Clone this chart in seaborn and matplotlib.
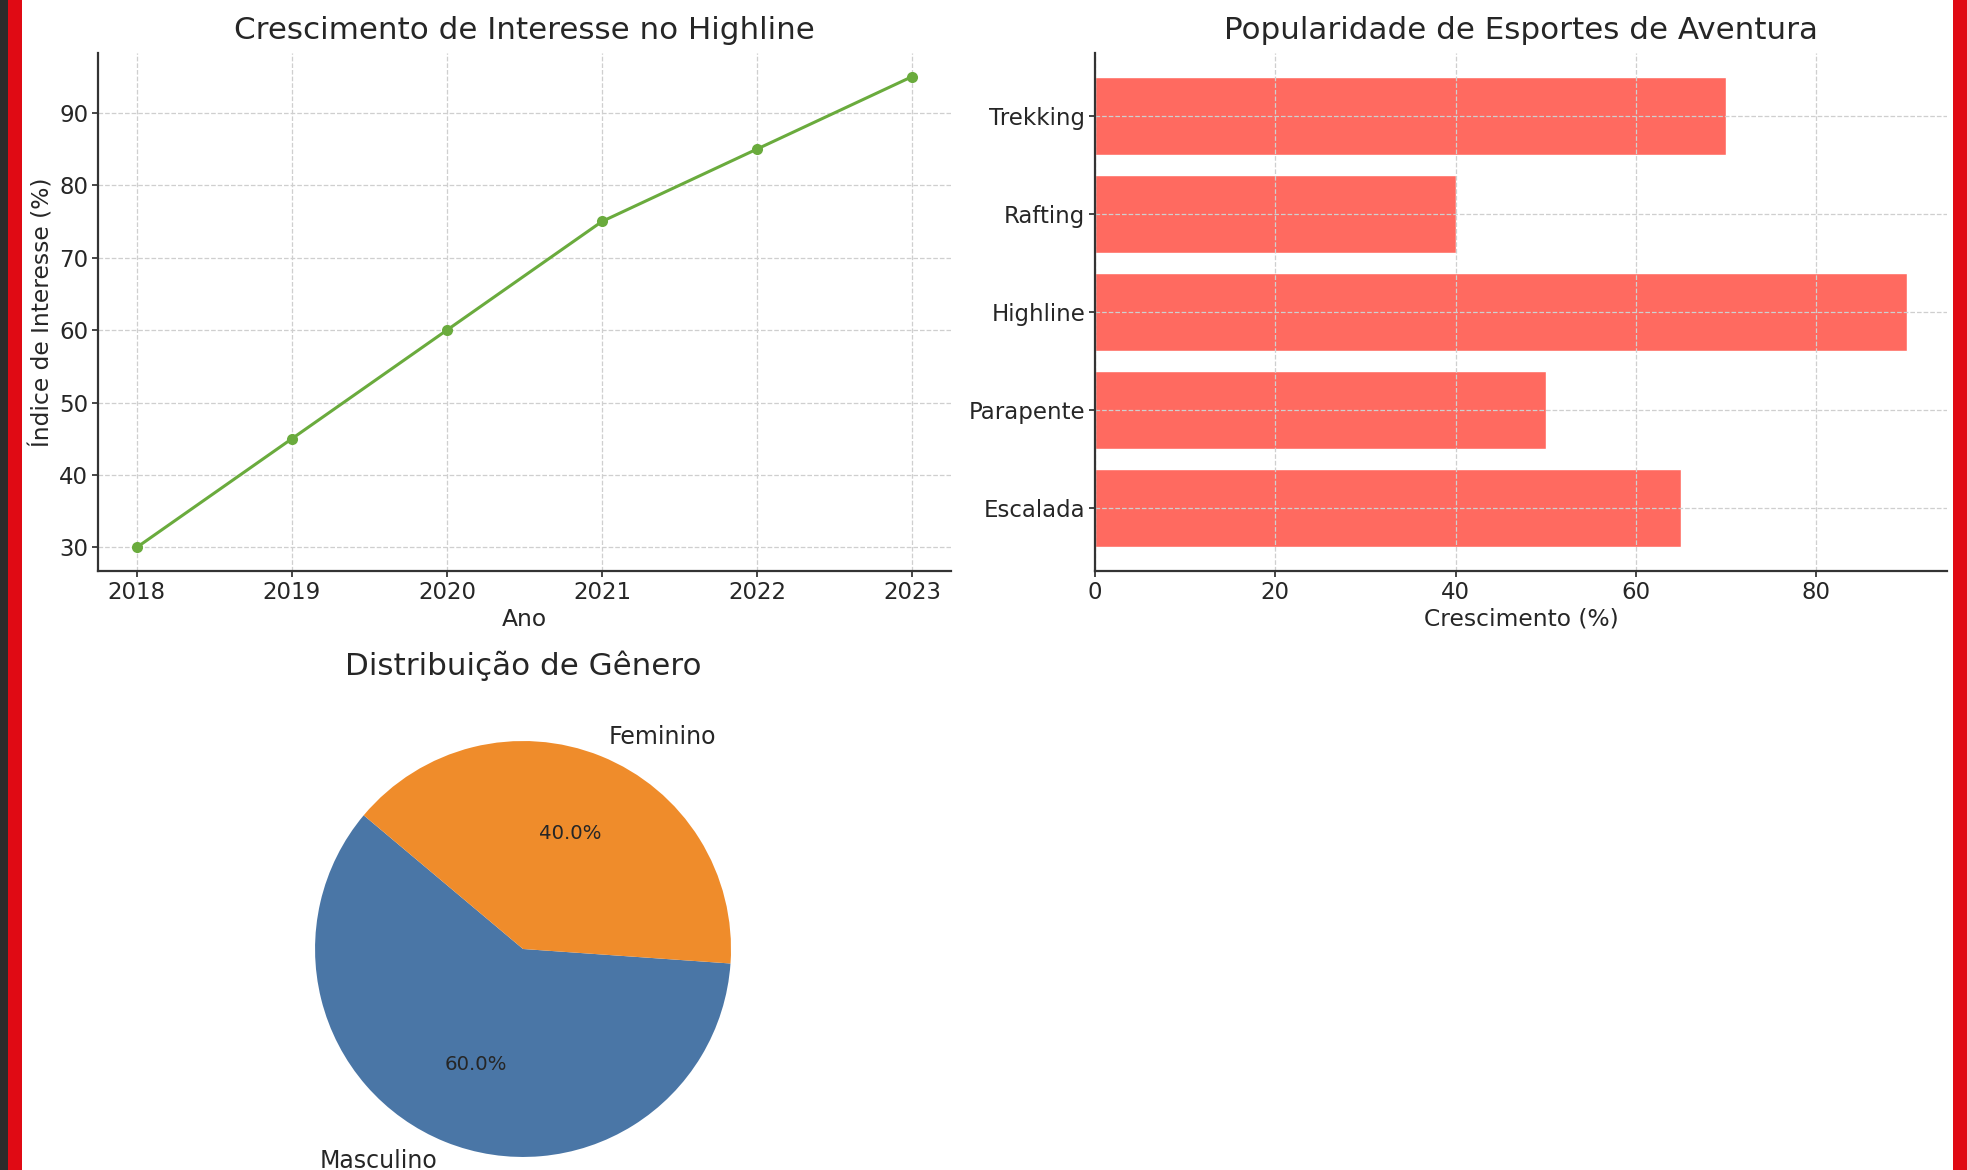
import numpy as np
import pandas as pd
import matplotlib
matplotlib.use("Agg")
import matplotlib.pyplot as plt
from matplotlib.patches import Rectangle
import seaborn as sns

# Data
anos = [2018, 2019, 2020, 2021, 2022, 2023]
interesse = [30, 45, 60, 75, 85, 95]

esportes = ["Escalada", "Parapente", "Highline", "Rafting", "Trekking"]
crescimento = [65, 50, 90, 40, 70]

generos = ["Masculino", "Feminino"]
proporcoes = [60, 40]

sns.set_style("ticks")
plt.rcParams["font.family"] = ["DejaVu Sans"]
plt.rcParams["axes.axisbelow"] = "line"

TXT = "#262626"
GRID = dict(color="#cfcfcf", linestyle="--", linewidth=0.9)
TITLE_FS = 22.3
LABEL_FS = 16.8
TICK_FS = 16.5

fig = plt.figure(figsize=(19.67, 11.70), dpi=100)
fig.patch.set_facecolor("white")

# 1. Line chart
ax1 = fig.add_axes([0.0498, 0.512, 0.4337, 0.4427])
df_line = pd.DataFrame({"Ano": anos, "Interesse": interesse})
sns.lineplot(data=df_line, x="Ano", y="Interesse", marker="o", color="#6aab3d",
             linewidth=2.2, markersize=8, markeredgewidth=0, ax=ax1)
ax1.set_xticks(anos)
ax1.set_title("Crescimento de Interesse no Highline", fontsize=TITLE_FS, color=TXT, pad=10)
ax1.set_xlabel("Ano", fontsize=LABEL_FS, color=TXT, labelpad=3)
ax1.set_ylabel("Índice de Interesse (%)", fontsize=LABEL_FS, color=TXT, labelpad=3)
ax1.grid(True, **GRID)

# 2. Horizontal bars
ax2 = fig.add_axes([0.5567, 0.512, 0.4332, 0.4427])
df_bar = pd.DataFrame({"Esporte": esportes, "Crescimento": crescimento})
sns.barplot(data=df_bar, y="Esporte", x="Crescimento", order=esportes[::-1],
            color="#ff6a60", saturation=1, width=0.8, ax=ax2)
ax2.set_ylim(len(esportes) - 0.36, -0.64)
ax2.set_xlim(0, 94.5)
ax2.set_title("Popularidade de Esportes de Aventura", fontsize=TITLE_FS, color=TXT, pad=10)
ax2.set_xlabel("Crescimento (%)", fontsize=LABEL_FS, color=TXT, labelpad=3)
ax2.set_ylabel("")
ax2.grid(True, **GRID)

for ax in (ax1, ax2):
    sns.despine(ax=ax)
    ax.tick_params(labelsize=TICK_FS, colors=TXT, length=4, width=1.2, pad=3)
    for s in ("left", "bottom"):
        ax.spines[s].set_color("#333333")
        ax.spines[s].set_linewidth(1.6)

# 3. Pie
ax3 = fig.add_axes([0.1337, -0.0333, 0.2644, 0.4444])
ax3.pie(proporcoes, labels=generos, colors=["#4a76a6", "#ef8c2b"],
        autopct="%1.1f%%", startangle=140,
        wedgeprops=dict(edgecolor="none", linewidth=0),
        textprops=dict(fontsize=17, color=TXT))
for t in ax3.texts:
    if t.get_text().endswith("%"):
        t.set_fontsize(14.2)
ax3.set_title("Distribuição de Gênero", fontsize=TITLE_FS, color=TXT, pad=10)

# Red frame on the sides
fig.patches.append(Rectangle((0, 0), 8 / 1967, 1, transform=fig.transFigure,
                             facecolor="#2b2b2b", edgecolor="none", zorder=10))
fig.patches.append(Rectangle((8 / 1967, 0), 14 / 1967, 1, transform=fig.transFigure,
                             facecolor="#e00a14", edgecolor="none", zorder=10))
fig.patches.append(Rectangle((1953 / 1967, 0), 14 / 1967, 1, transform=fig.transFigure,
                             facecolor="#e00a14", edgecolor="none", zorder=10))

fig.savefig("out.png", dpi=100)
